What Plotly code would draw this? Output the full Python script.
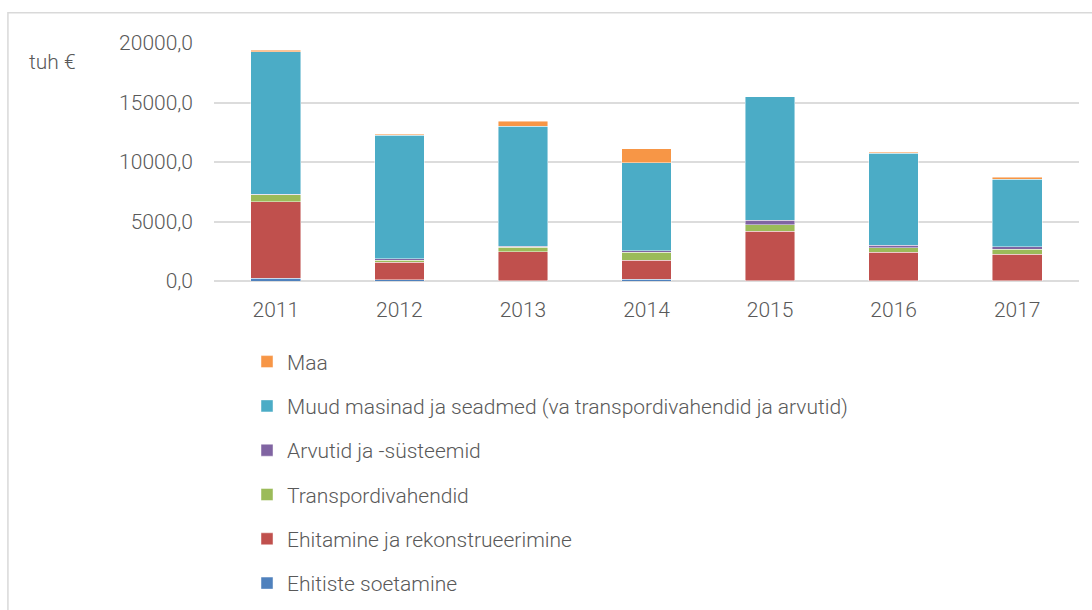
import plotly.graph_objects as go

years = ["2011", "2012", "2013", "2014", "2015", "2016", "2017"]

ehitiste_soetamine = [250, 100, 30, 150, 20, 20, 10]
ehitamine = [6400, 1480, 2420, 1600, 4160, 2390, 2230]
transpordivahendid = [590, 170, 390, 670, 560, 390, 420]
arvutid = [50, 100, 80, 110, 360, 200, 220]
muud_masinad = [11980, 10390, 10100, 7420, 10390, 7740, 5680]
maa = [120, 80, 390, 1150, 10, 60, 170]

series = [
    ("Ehitiste soetamine", ehitiste_soetamine, "#4F81BD"),
    ("Ehitamine ja rekonstrueerimine", ehitamine, "#C0504D"),
    ("Transpordivahendid", transpordivahendid, "#9BBB59"),
    ("Arvutid ja -süsteemid", arvutid, "#8064A2"),
    ("Muud masinad ja seadmed (va transpordivahendid ja arvutid)", muud_masinad, "#4BACC6"),
    ("Maa", maa, "#F79646"),
]

FONT = "Roboto"
GREY = "#595959"
FS = 21

fig = go.Figure()
n = len(series)
for i, (name, vals, color) in enumerate(series):
    fig.add_trace(go.Bar(
        x=years, y=vals, name=name, legendgroup=name, legendrank=n - i,
        marker=dict(color=color, line=dict(color="rgba(255,255,255,0.6)", width=0.75)),
    ))

W, H = 1092, 610
L, R, T, B = 214, 13.3, 43.3, 328.5
pw = W - L - R
ph = H - T - B

def px_x(p):
    return (p - L) / pw

def px_y(p):
    return (H - B - p) / ph

fig.update_layout(
    width=W, height=H,
    margin=dict(l=L, r=R, t=T, b=B, autoexpand=False),
    barmode="stack",
    bargap=0.598,
    separators=", ",
    paper_bgcolor="white",
    plot_bgcolor="white",
    font=dict(family=FONT, size=FS, color=GREY, weight=300),
    xaxis=dict(
        type="category", showgrid=False, zeroline=False, showline=False,
        ticks="", ticklabelstandoff=14,
        tickfont=dict(family=FONT, size=FS, color=GREY, weight=300),
    ),
    yaxis=dict(
        range=[0, 20000], tickvals=[0, 5000, 10000, 15000, 20000],
        tickformat=".1f", showgrid=True, gridcolor="#dcdcdc", gridwidth=1.5,
        zeroline=True, zerolinecolor="#dcdcdc", zerolinewidth=1.5,
        showline=False, ticks="", ticklabelstandoff=20,
        tickfont=dict(family=FONT, size=FS, color=GREY, weight=300),
    ),
    legend=dict(
        traceorder="grouped", tracegroupgap=14,
        x=px_x(247), xanchor="left", y=px_y(342), yanchor="top",
        font=dict(family=FONT, size=FS, color=GREY, weight=300),
        bgcolor="rgba(0,0,0,0)", borderwidth=0,
    ),
    annotations=[dict(
        text="tuh €", xref="paper", yref="paper",
        x=px_x(27), y=px_y(62), xanchor="left", yanchor="middle",
        showarrow=False, font=dict(family=FONT, size=FS, color=GREY, weight=300),
    )],
    shapes=[dict(
        type="rect", xref="paper", yref="paper",
        x0=px_x(8), x1=px_x(1110), y0=px_y(640), y1=px_y(13),
        line=dict(color="#d9d9d9", width=1.5), fillcolor="rgba(0,0,0,0)", layer="below",
    )],
)

fig.write_html("out.html", config={"displayModeBar": False},
               post_script="document.body.style.margin='0';")
